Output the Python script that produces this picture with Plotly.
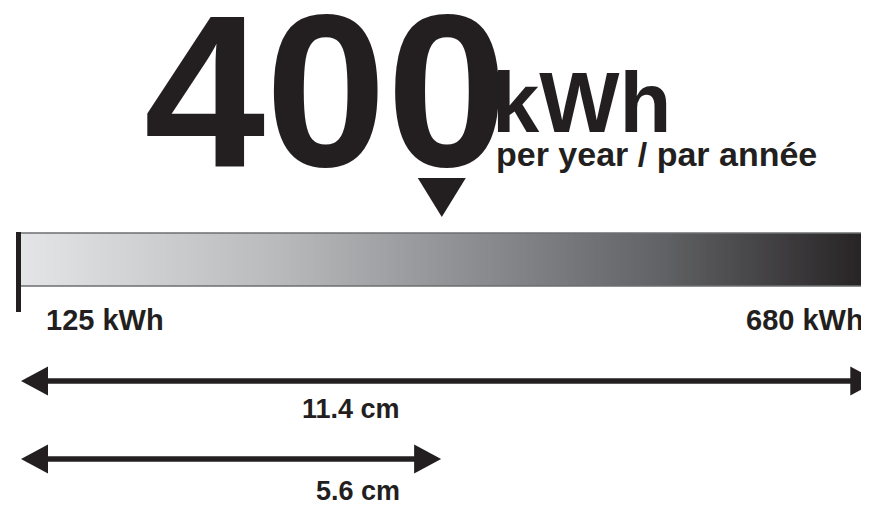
import plotly.graph_objects as go
import numpy as np

# ---- data ----
range_kwh = [125, 680]          # scale ends (kWh per year)
rating_kwh = 400                # rated consumption
range_labels = ["125 kWh", "680 kWh"]
rating_text = "400"
unit_text = "kWh"
sub_text = "per year / par année"
lengths_cm = [11.4, 5.6]        # dimension arrows
length_labels = ["11.4 cm", "5.6 cm"]
full_cm = 11.4                  # physical length of the full scale

# ---- layout constants (pixels of the page) ----
PAGE_W, PAGE_H = 869, 505
OFF = 8                          # default body margin of the page
W, H = PAGE_W - OFF, PAGE_H - OFF
X0_PX = 20.0
PX_PER_KWH = 857.3 / (range_kwh[1] - range_kwh[0])
INK = "#231f20"
FONT = "Liberation Sans, Arial, Helvetica, sans-serif"


def cm_to_kwh(cm):
    return range_kwh[0] + cm / full_cm * (range_kwh[1] - range_kwh[0])


def px_to_kwh(px):
    return px / PX_PER_KWH


x_left = range_kwh[0] - (X0_PX - OFF) / PX_PER_KWH
x_right = range_kwh[0] + (PAGE_W - X0_PX) / PX_PER_KWH

fig = go.Figure()

# gradient bar
n = 300
edges = np.linspace(range_kwh[0], range_kwh[1], n + 1)
centers = (edges[:-1] + edges[1:]) / 2
fig.add_trace(go.Heatmap(
    x=edges, y=[233, 286], z=[centers],
    colorscale=[[0, "#e4e5e7"], [0.3, "#b9babc"], [0.5, "#929396"],
                [0.75, "#616265"], [1, "#231f20"]],
    zmin=range_kwh[0], zmax=range_kwh[1],
    showscale=False, hoverinfo="skip",
))

shapes = []
# bar borders
for yb in (233, 286):
    shapes.append(dict(type="line", xref="x", yref="y",
                       x0=range_kwh[0], x1=range_kwh[1], y0=yb, y1=yb,
                       line=dict(color="#6d6e71", width=1.5)))
# left tick
shapes.append(dict(type="line", xref="x", yref="y",
                   x0=range_kwh[0] - px_to_kwh(1.5), x1=range_kwh[0] - px_to_kwh(1.5),
                   y0=232, y1=312, line=dict(color=INK, width=5)))

# pointer triangle
hw = px_to_kwh(24)
pc = rating_kwh - px_to_kwh(3)
shapes.append(dict(type="path", xref="x", yref="y",
                   path=f"M {pc - hw},178 L {pc + hw},178 L {pc},217 Z",
                   fillcolor=INK, line=dict(width=0)))

# dimension arrows
arrow_y = [381, 459]
head_w = px_to_kwh(27)
head_h = 14.5
for cm, ay in zip(lengths_cm, arrow_y):
    xa = range_kwh[0] + px_to_kwh(1)
    xb = cm_to_kwh(cm)
    shapes.append(dict(type="line", xref="x", yref="y",
                       x0=xa + head_w * 0.8, x1=xb - head_w * 0.8, y0=ay, y1=ay,
                       line=dict(color=INK, width=5.5)))
    shapes.append(dict(type="path", xref="x", yref="y",
                       path=f"M {xa},{ay} L {xa + head_w},{ay - head_h} L {xa + head_w},{ay + head_h} Z",
                       fillcolor=INK, line=dict(width=0)))
    shapes.append(dict(type="path", xref="x", yref="y",
                       path=f"M {xb},{ay} L {xb - head_w},{ay - head_h} L {xb - head_w},{ay + head_h} Z",
                       fillcolor=INK, line=dict(width=0)))

ann = []


def txt(text, xpx, ypx, size, xanchor="center"):
    ann.append(dict(text=text, xref="paper", yref="y", x=(xpx - OFF) / W, y=ypx,
                    xanchor=xanchor, yanchor="middle", showarrow=False,
                    font=dict(family=FONT, size=size, color=INK, weight="bold")))


txt(rating_text, 326, 90, 218)
txt(unit_text, 581, 102, 85)
txt(sub_text, 656, 154, 34)
txt(range_labels[0], 105, 320, 29)
txt(range_labels[1], 804.5, 320, 29)
txt(length_labels[0], 351, 409, 27)
txt(length_labels[1], 357.5, 491, 27)

fig.update_layout(
    width=W, height=H,
    margin=dict(l=0, r=0, t=0, b=0),
    paper_bgcolor="white", plot_bgcolor="white",
    xaxis=dict(range=[x_left, x_right], visible=False, fixedrange=True),
    yaxis=dict(range=[PAGE_H, OFF], visible=False, fixedrange=True),
    shapes=shapes, annotations=ann, showlegend=False,
)

fig.write_html("out.html")
